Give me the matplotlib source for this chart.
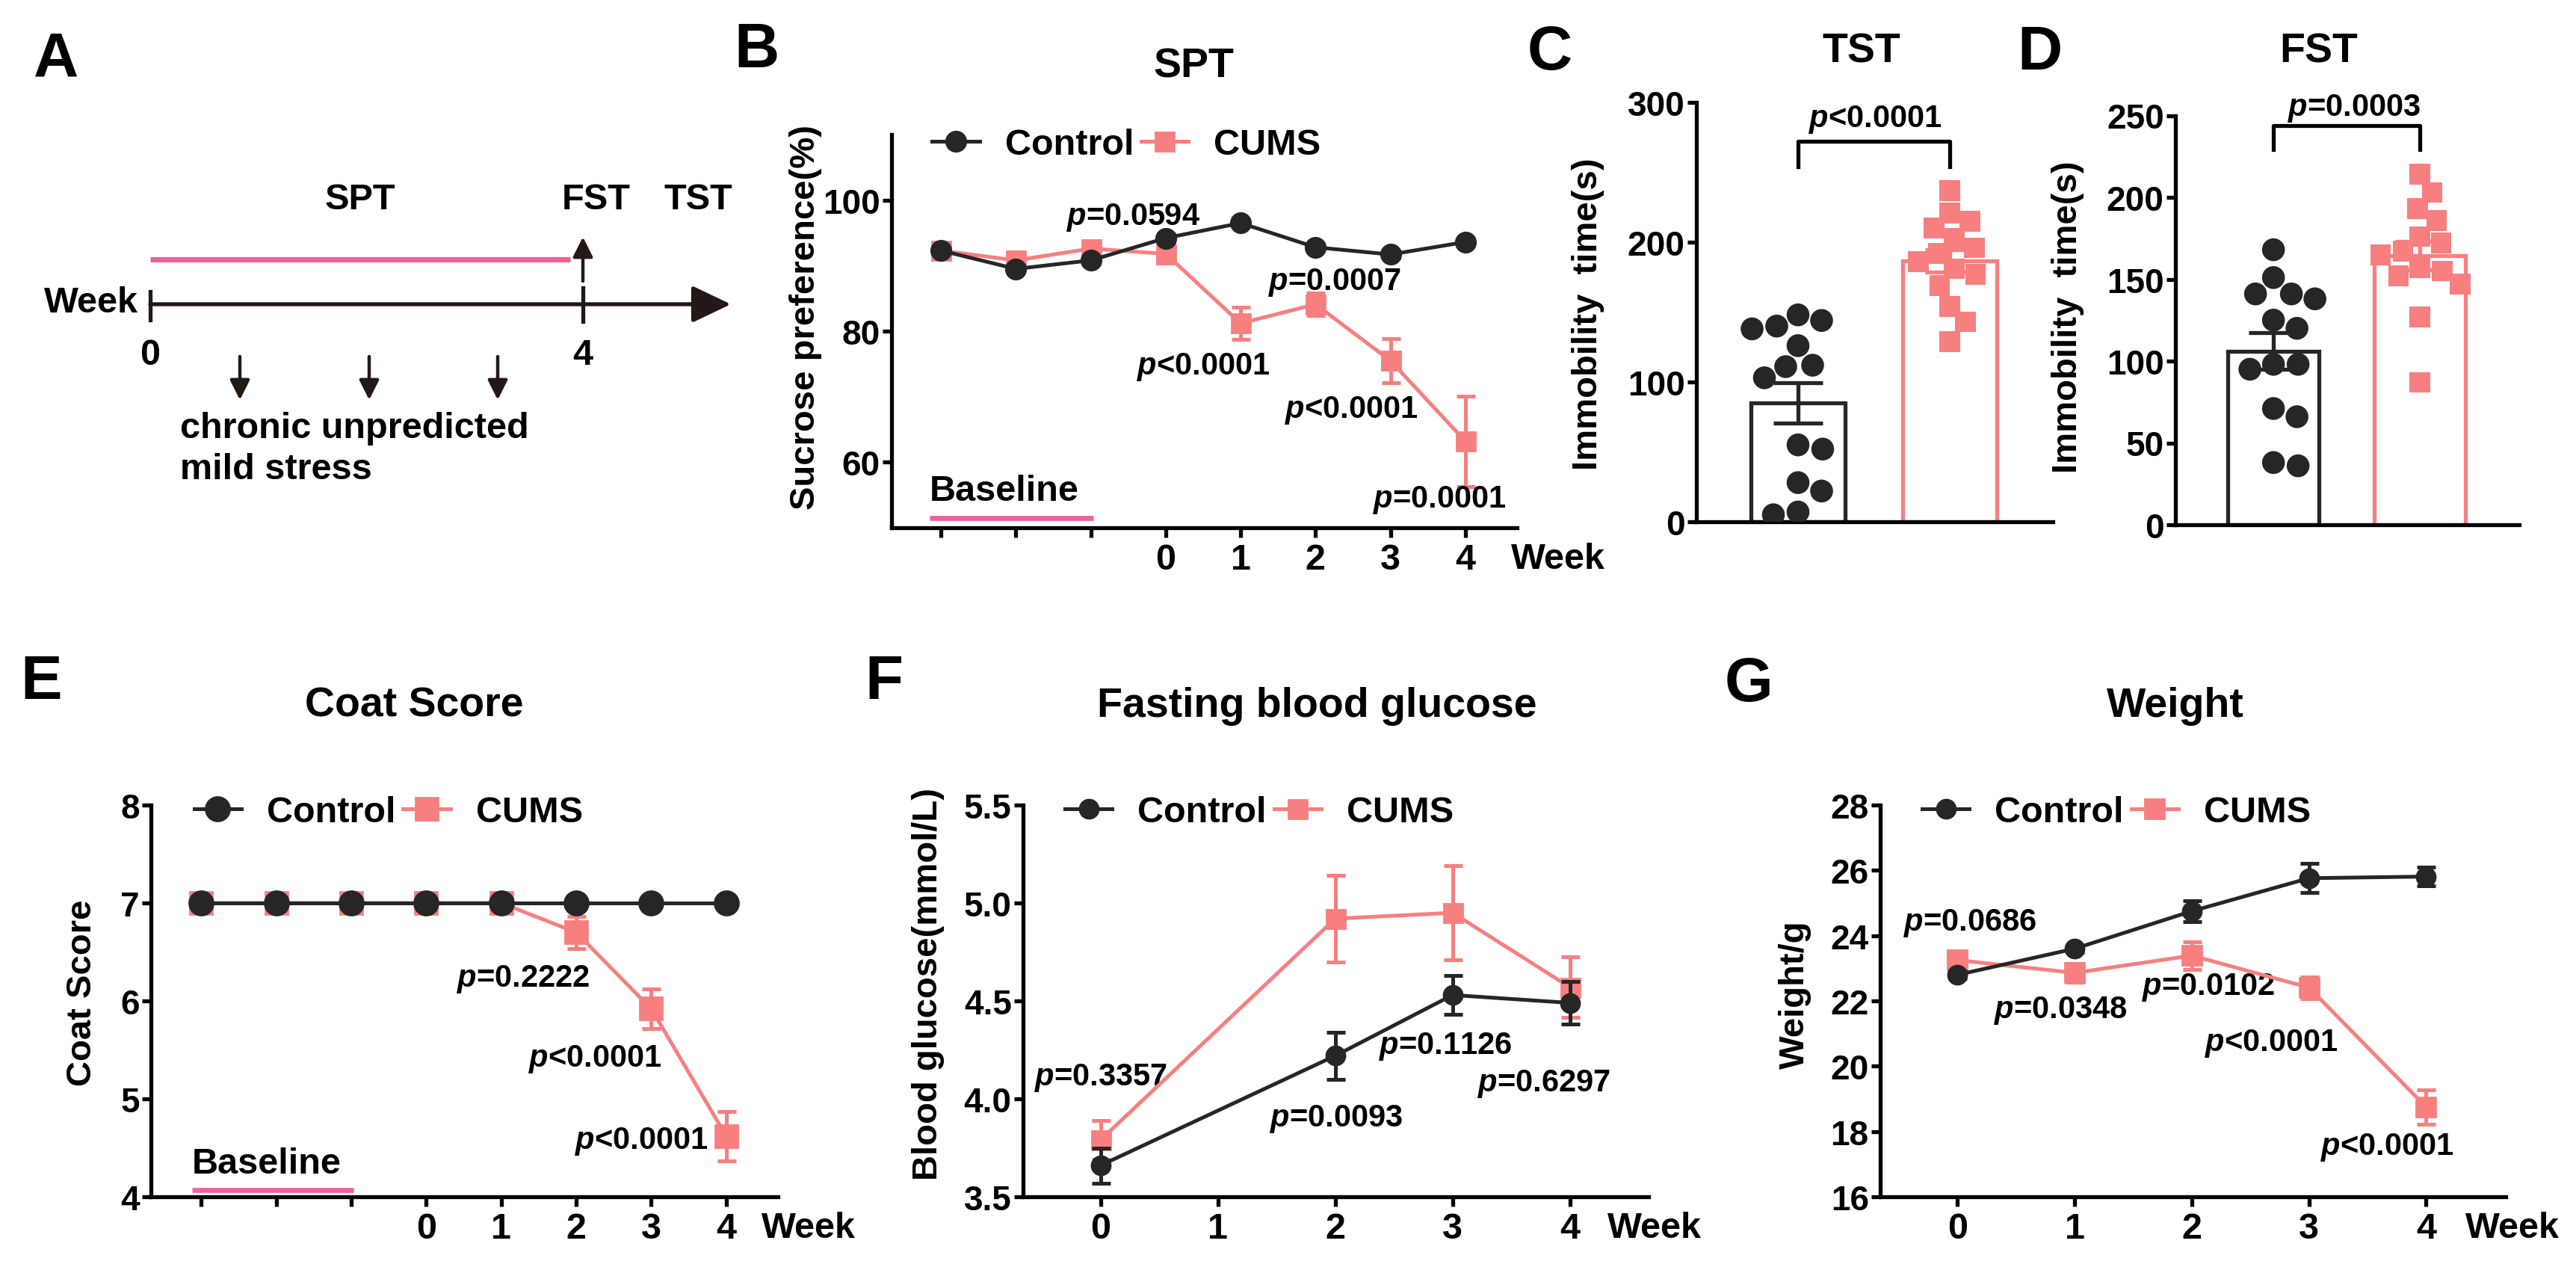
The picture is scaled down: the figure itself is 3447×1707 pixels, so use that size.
import numpy as np
import matplotlib
matplotlib.use('Agg')
import matplotlib.pyplot as plt
from matplotlib.lines import Line2D

W, H, DPI = 3448, 1708, 200

plt.rcParams['font.family'] = ['Liberation Sans', 'DejaVu Sans']
plt.rcParams['font.weight'] = 'bold'
plt.rcParams['axes.labelweight'] = 'bold'
plt.rcParams['mathtext.fontset'] = 'custom'
plt.rcParams['mathtext.it'] = 'Liberation Sans:italic:bold'
plt.rcParams['mathtext.rm'] = 'Liberation Sans:bold'
plt.rcParams['mathtext.bf'] = 'Liberation Sans:bold'

CTRL = '#262626'
CUMS = '#F77F80'
PINK = '#F0609A'
DARK = '#231815'

FS_TEXT = 17.5     # general labels
FS_TICK = 16.5
FS_P = 15
FS_TITLE = 20
FS_YLAB = 17
FS_LETTER = 30

# ---------------- data ----------------
groups = ['Control', 'CUMS']

# B: sucrose preference (3 baseline points + weeks 0-4)
spt_ticklabels = ['', '', '', '0', '1', '2', '3', '4']
spt_control = [92.3, 89.5, 90.8, 94.2, 96.5, 92.8, 91.7, 93.6]
spt_control_sem = [0.5, 0.5, 0.5, 0.6, 0.5, 0.5, 0.5, 0.5]
spt_cums = [92.3, 90.8, 92.6, 91.8, 81.2, 84.1, 75.5, 63.2]
spt_cums_sem = [0.5, 0.6, 0.6, 0.8, 2.4, 1.7, 3.4, 6.9]
spt_p = ['p=0.0594', 'p<0.0001', 'p=0.0007', 'p<0.0001', 'p=0.0001']

# C: TST immobility (s)
tst_control = [148, 144, 140, 138, 126, 112, 111, 103, 55, 52, 28, 22, 7, 5]
tst_cums = [237, 221, 215, 210, 203, 196, 192, 186, 181, 177, 169, 154, 143, 129]
tst_p = 'p<0.0001'

# D: FST immobility (s)
fst_control = [168, 151, 141, 141, 138, 125, 120, 98, 98, 95, 71, 66, 38, 36]
fst_cums = [214, 203, 193, 186, 176, 172, 167, 165, 157, 155, 152, 147, 127, 87]
fst_p = 'p=0.0003'

# E: coat score
coat_ticklabels = ['', '', '', '0', '1', '2', '3', '4']
coat_control = [7, 7, 7, 7, 7, 7, 7, 7]
coat_control_sem = [0, 0, 0, 0, 0, 0, 0, 0]
coat_cums = [7, 7, 7, 7, 7, 6.70, 5.92, 4.62]
coat_cums_sem = [0, 0, 0, 0, 0, 0.165, 0.20, 0.25]
coat_p = ['p=0.2222', 'p<0.0001', 'p<0.0001']

# F: fasting blood glucose
glu_weeks = [0, 2, 3, 4]
glu_control = [3.66, 4.22, 4.53, 4.49]
glu_control_sem = [0.09, 0.12, 0.10, 0.11]
glu_cums = [3.79, 4.92, 4.95, 4.57]
glu_cums_sem = [0.10, 0.22, 0.24, 0.155]
glu_p = ['p=0.3357', 'p=0.0093', 'p=0.1126', 'p=0.6297']

# G: weight
wt_weeks = [0, 1, 2, 3, 4]
wt_control = [22.80, 23.60, 24.75, 25.76, 25.81]
wt_control_sem = [0.12, 0.10, 0.32, 0.45, 0.28]
wt_cums = [23.25, 22.86, 23.39, 22.41, 18.75]
wt_cums_sem = [0.15, 0.28, 0.42, 0.33, 0.53]
wt_p = ['p=0.0686', 'p=0.0348', 'p=0.0102', 'p<0.0001', 'p<0.0001']

# ---------------- helpers ----------------
fig = plt.figure(figsize=(W / DPI, H / DPI), dpi=DPI)


def axrect(l, r, t, b):
    return [l / W, 1 - b / H, (r - l) / W, (b - t) / H]


def ptxt(s):
    return r'$\mathit{p}$' + s[1:]


def style(ax, xpad=2.8):
    for s in ['top', 'right']:
        ax.spines[s].set_visible(False)
    for s in ['left', 'bottom']:
        ax.spines[s].set_linewidth(1.9)
        ax.spines[s].set_color('black')
    ax.tick_params(axis='both', width=1.9, length=4.5, direction='out', colors='black')
    ax.tick_params(axis='y', labelsize=FS_TICK, pad=1)
    ax.tick_params(axis='x', labelsize=FS_TEXT, pad=xpad)
    for lab in ax.get_xticklabels() + ax.get_yticklabels():
        lab.set_fontweight('bold')


def ylab(ax, text, x, y):
    ax.set_ylabel(text, fontsize=FS_YLAB, fontweight='bold')
    ax.yaxis.set_label_coords(x, y)
    ax.yaxis.label.set_va('center')


def week_label(ax, last_tick, dx_pt):
    ax.annotate('Week', xy=(last_tick, 0), xycoords=('data', 'axes fraction'),
                xytext=(dx_pt, -14.8), textcoords='offset points', ha='left',
                va='center', fontsize=FS_TEXT, fontweight='bold', annotation_clip=False)


def legend(ax, x, y, ms_c, ms_s):
    h = [Line2D([], [], color=CTRL, marker='o', ms=ms_c, lw=1.8),
         Line2D([], [], color=CUMS, marker='s', ms=ms_s, lw=1.8)]
    ax.legend(h, groups, loc='center left', bbox_to_anchor=(x, y), ncol=2,
              frameon=False, handlelength=1.3, handletextpad=0.7,
              columnspacing=0.2, borderpad=0, borderaxespad=0, numpoints=1,
              prop={'weight': 'bold', 'size': FS_TEXT})


def line_panel(ax, x, c, ce, u, ue, ms_c, ms_s):
    ax.errorbar(x, u, yerr=ue, color=CUMS, marker='s', ms=ms_s, lw=1.8,
                elinewidth=1.8, capsize=4.5, capthick=1.8, zorder=3, clip_on=False)
    ax.errorbar(x, c, yerr=ce, color=CTRL, marker='o', ms=ms_c, lw=1.8,
                elinewidth=1.8, capsize=4.5, capthick=1.8, zorder=4, clip_on=False)


def swarm_x(ax, xc, vals, diam):
    vals = np.asarray(vals, float)
    x0 = ax.transData.transform((xc, 0))[0]
    placed = []
    out = np.zeros(len(vals))
    cands = [0.0]
    for k in range(1, 80):
        cands += [k * 1.5, -k * 1.5]
    for i in np.argsort(-vals):
        y = ax.transData.transform((xc, vals[i]))[1]
        for dx in cands:
            if all((x0 + dx - px) ** 2 + (y - py) ** 2 >= diam ** 2 for px, py in placed):
                break
        placed.append((x0 + dx, y))
        out[i] = ax.transData.inverted().transform((x0 + dx, y))[0]
    return out


def bar_panel(ax, ctrl, cums, ymax, yticks, ptext, br_lo, br_hi, p_x, p_y):
    ax.set_xlim(-0.67, 1.68)
    ax.set_ylim(0, ymax)
    ax.set_yticks(yticks)
    ax.set_xticks([])
    for i, (vals, col, mk, sz) in enumerate([(ctrl, CTRL, 'o', 11.0), (cums, CUMS, 's', 10.0)]):
        vals = np.asarray(vals, float)
        m = vals.mean()
        sem = vals.std(ddof=1) / np.sqrt(len(vals))
        ax.bar(i, m, width=0.62, facecolor='none', edgecolor=col, linewidth=1.9, zorder=2)
        xs = swarm_x(ax, i, vals, sz * DPI / 72 * 1.05)
        ax.scatter(xs, vals, s=sz ** 2, marker=mk, color=col, edgecolors='none', zorder=3)
        ax.errorbar(i, m, yerr=sem, color=col, lw=1.9, capsize=12, capthick=1.9, zorder=4)
    ax.plot([0, 0, 1, 1], [br_lo, br_hi, br_hi, br_lo], color='black', lw=1.9, clip_on=False)
    ax.text(p_x, p_y, ptxt(ptext), ha='center', va='center', fontsize=FS_P, fontweight='bold')
    style(ax)


# ---------------- panel A (schematic, pixel coordinates) ----------------
ov = fig.add_axes([0, 0, 1, 1])
ov.set_xlim(0, W)
ov.set_ylim(H, 0)
ov.axis('off')
ov.patch.set_visible(False)

ov.annotate('', xy=(978, 408), xytext=(201, 408),
            arrowprops=dict(arrowstyle='-|>,head_length=0.42,head_width=0.2',
                            lw=1.9, color=DARK, mutation_scale=38, shrinkA=0, shrinkB=0))
ov.plot([201, 201], [391, 429], color=DARK, lw=1.9)
ov.plot([780, 780], [386, 431], color=DARK, lw=1.9)
ov.plot([201, 763], [348, 348], color=PINK, lw=2.6, solid_capstyle='butt')
ov.annotate('', xy=(780, 318), xytext=(780, 377),
            arrowprops=dict(arrowstyle='-|>,head_length=0.5,head_width=0.25',
                            lw=1.6, color=DARK, mutation_scale=16, shrinkA=0, shrinkB=0))
for ax_x in (321, 494, 666):
    ov.annotate('', xy=(ax_x, 536), xytext=(ax_x, 478),
                arrowprops=dict(arrowstyle='-|>,head_length=0.5,head_width=0.25',
                                lw=1.6, color=DARK, mutation_scale=16, shrinkA=0, shrinkB=0))
ov.text(185, 406, 'Week', ha='right', va='center', fontsize=FS_TEXT, fontweight='bold')
ov.text(201, 475, '0', ha='center', va='center', fontsize=FS_TEXT, fontweight='bold')
ov.text(780, 475, '4', ha='center', va='center', fontsize=FS_TEXT, fontweight='bold')
ov.text(482, 268, 'SPT', ha='center', va='center', fontsize=FS_TEXT, fontweight='bold')
ov.text(798, 268, 'FST', ha='center', va='center', fontsize=FS_TEXT, fontweight='bold')
ov.text(934, 268, 'TST', ha='center', va='center', fontsize=FS_TEXT, fontweight='bold')
ov.text(241, 574, 'chronic unpredicted', ha='left', va='center', fontsize=FS_TEXT, fontweight='bold')
ov.text(241, 629, 'mild stress', ha='left', va='center', fontsize=FS_TEXT, fontweight='bold')

# panel letters and titles
for lt, (x, y) in zip('ABCDEFG', [(75, 80), (1013, 68), (2074, 71), (2730, 71),
                                  (55, 913), (1183, 913), (2340, 916)]):
    ov.text(x, y, lt, ha='center', va='center', fontsize=FS_LETTER, fontweight='bold')
for tt, (x, y) in zip(['SPT', 'TST', 'FST', 'Coat Score', 'Fasting blood glucose', 'Weight'],
                      [(1597, 89), (2491, 69), (3103, 69), (554, 945), (1762, 945), (2911, 945)]):
    ov.text(x, y, tt, ha='center', va='center', fontsize=FS_TITLE, fontweight='bold')

# ---------------- panel B ----------------
axB = fig.add_axes(axrect(1193, 2030, 181, 707))
xB = np.arange(len(spt_control))
line_panel(axB, xB, spt_control, spt_control_sem, spt_cums, spt_cums_sem, 9.5, 9)
axB.set_xlim(-0.66, 7.69)
axB.set_ylim(50, 110)
axB.set_yticks([60, 80, 100])
axB.set_xticks(xB)
axB.set_xticklabels(spt_ticklabels)
style(axB)
ylab(axB, 'Sucrose preference(%)', -0.137, 0.538)
week_label(axB, xB[-1], 22)
legend(axB, 0.065, 0.975, 9.5, 9)
axB.plot([-0.15, 2.03], [51.5, 51.5], color=PINK, lw=2.4, clip_on=False, solid_capstyle='butt')
axB.text(-0.15, 55.6, 'Baseline', ha='left', va='center', fontsize=FS_TEXT, fontweight='bold')
for t, (x, y) in zip(spt_p, [(2.57, 97.5), (3.50, 74.6), (5.26, 87.5), (5.48, 68.0), (6.66, 54.3)]):
    axB.text(x, y, ptxt(t), ha='center', va='center', fontsize=FS_P, fontweight='bold')

# ---------------- panel C ----------------
axC = fig.add_axes(axrect(2270, 2747, 138, 699))
bar_panel(axC, tst_control, tst_cums, 300, [0, 100, 200, 300], tst_p, 254, 272, 0.51, 288)
ylab(axC, 'Immobility  time(s)', -0.304, 0.497)

# ---------------- panel D ----------------
axD = fig.add_axes(axrect(2911, 3371, 155.5, 703))
bar_panel(axD, fst_control, fst_cums, 250, [0, 50, 100, 150, 200, 250], fst_p, 229, 244, 0.55, 255)
ylab(axD, 'Immobility  time(s)', -0.313, 0.51)

# ---------------- panel E ----------------
axE = fig.add_axes(axrect(202, 1041, 1078, 1602))
xE = np.arange(len(coat_control))
line_panel(axE, xE, coat_control, coat_control_sem, coat_cums, coat_cums_sem, 11.5, 10.5)
axE.set_xlim(-0.67, 7.69)
axE.set_ylim(4, 8)
axE.set_yticks([4, 5, 6, 7, 8])
axE.set_xticks(xE)
axE.set_xticklabels(coat_ticklabels)
style(axE)
ylab(axE, 'Coat Score', -0.110, 0.523)
week_label(axE, xE[-1], 17)
legend(axE, 0.069, 0.981, 11.5, 10.5)
axE.plot([-0.12, 2.03], [4.07, 4.07], color=PINK, lw=2.4, clip_on=False, solid_capstyle='butt')
axE.text(-0.12, 4.34, 'Baseline', ha='left', va='center', fontsize=FS_TEXT, fontweight='bold')
for t, (x, y) in zip(coat_p, [(4.29, 6.23), (5.25, 5.41), (5.87, 4.57)]):
    axE.text(x, y, ptxt(t), ha='center', va='center', fontsize=FS_P, fontweight='bold')

# ---------------- panel F ----------------
axF = fig.add_axes(axrect(1369, 2206, 1078, 1602))
line_panel(axF, glu_weeks, glu_control, glu_control_sem, glu_cums, glu_cums_sem, 9, 9)
axF.set_xlim(-0.66, 4.67)
axF.set_ylim(3.5, 5.5)
axF.set_yticks([3.5, 4.0, 4.5, 5.0, 5.5])
axF.set_yticklabels(['3.5', '4.0', '4.5', '5.0', '5.5'])
axF.set_xticks(range(5))
style(axF)
ylab(axF, 'Blood glucose(mmol/L)', -0.152, 0.544)
week_label(axF, 4, 18)
legend(axF, 0.067, 0.981, 9, 9)
for t, (x, y) in zip(glu_p, [(0.0, 4.11), (2.01, 3.90), (2.94, 4.27), (3.78, 4.08)]):
    axF.text(x, y, ptxt(t), ha='center', va='center', fontsize=FS_P, fontweight='bold')

# ---------------- panel G ----------------
axG = fig.add_axes(axrect(2516, 3353, 1078, 1602))
line_panel(axG, wt_weeks, wt_control, wt_control_sem, wt_cums, wt_cums_sem, 9, 9.5)
axG.set_xlim(-0.66, 4.68)
axG.set_ylim(16, 28)
axG.set_yticks(range(16, 29, 2))
axG.set_xticks(range(5))
style(axG)
ylab(axG, 'Weight/g', -0.136, 0.517)
week_label(axG, wt_weeks[-1], 19)
legend(axG, 0.067, 0.981, 9, 9.5)
for t, (x, y) in zip(wt_p, [(0.11, 24.40), (0.88, 21.72), (2.14, 22.43), (2.68, 20.71), (3.67, 17.53)]):
    axG.text(x, y, ptxt(t), ha='center', va='center', fontsize=FS_P, fontweight='bold')

fig.savefig('out.png', dpi=DPI)
